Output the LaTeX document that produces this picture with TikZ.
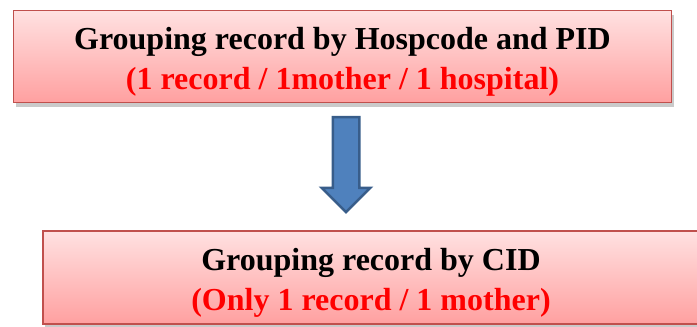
\documentclass[tikz,border=0pt]{standalone}
\usepackage{fontspec}
\setmainfont{Liberation Serif}
\usetikzlibrary{shapes.arrows,shadows}

\definecolor{boxtop}{HTML}{FFE1E1}
\definecolor{boxbottom}{HTML}{FFA0A0}
\definecolor{boxline}{HTML}{C0504D}
\definecolor{arrowfill}{HTML}{4F81BD}
\definecolor{arrowline}{HTML}{385D8A}
\definecolor{notered}{HTML}{FF0000}

\newcommand\toprule{\rule{0pt}{32pt}}
\newcommand\botrule{\rule[-7pt]{0pt}{7pt}}

\begin{document}
\begin{tikzpicture}[
		x=1pt, y=-1pt,
		every node/.style={inner sep=0pt},
		stepbox/.style={draw=boxline, line width=1.2pt, top color=boxtop, bottom color=boxbottom,
			align=center, font=\bfseries\fontsize{32}{40}\selectfont,
			drop shadow={shadow xshift=2pt, shadow yshift=-4pt, opacity=0.35, fill=black!60}},
		blockarrow/.style={single arrow, draw=arrowline, fill=arrowfill, line width=2.5pt,
			inner sep=12pt, single arrow head extend=11pt, single arrow tip angle=90, rotate=-90}
	]

		\useasboundingbox (0,0) rectangle (697,327);

		% Boxes
		\node[stepbox, minimum width=658pt, minimum height=92pt] (hosp) at (342.5, 56.5)
			{\toprule Grouping record by Hospcode and PID\\ \textcolor{notered}{(1 record / 1mother / 1 hospital)}\botrule};
		\node[stepbox, minimum width=656pt, minimum height=93pt] (cid) at (371, 277.5)
			{\toprule Grouping record by CID\\ \textcolor{notered}{(Only 1 record / 1 mother)}\botrule};

		% Arrow
		\node[blockarrow, minimum height=95pt] (down) at (346, 158) {};
	\end{tikzpicture}
\end{document}
